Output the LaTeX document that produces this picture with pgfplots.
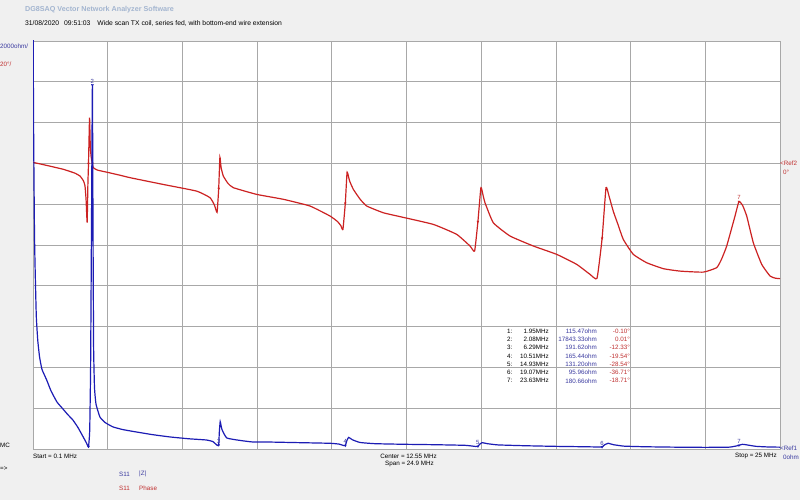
\documentclass[border=0pt]{standalone}
\usepackage{fontspec}
\setmainfont{Liberation Sans}
\usepackage{pgfplots}
\pgfplotsset{compat=1.18}
\definecolor{bgc}{HTML}{F0F0F0}
\definecolor{zc}{HTML}{1C1CB4}
\definecolor{pc}{HTML}{CC2222}
\definecolor{zt}{HTML}{3A3AA0}
\definecolor{pt}{HTML}{C03030}
\definecolor{tt}{HTML}{A3B5D0}
\definecolor{gc}{HTML}{A8A8A8}
\begin{document}
\begin{tikzpicture}[x=1bp,y=1bp,font=\fontsize{6.3}{7}\selectfont]
\useasboundingbox (0,0) rectangle (800,500);
\fill[bgc] (0,0) rectangle (800,500);
% phase axis with grid
\begin{axis}[at={(33bp,51bp)}, anchor=south west, width=747bp, height=408bp, scale only axis,
  xmin=0.1, xmax=25, ymin=-140, ymax=60,
  xtick={0.1,2.59,5.08,7.57,10.06,12.55,15.04,17.53,20.02,22.51,25},
  ytick={-140,-120,...,60},
  xticklabels={}, yticklabels={},
  grid=major, major grid style={gc, line width=0.8bp},
  major tick length=0pt, axis line style={gc, line width=0.8bp},
  axis background/.style={fill=white}]
\addplot[pc, line width=1.2bp, smooth, tension=0.25] table {
f P
0.10 0.5
0.5 -0.8
1.11 -2.9
1.50 -4.8
1.667 -6.2
1.78 -8.5
1.833 -11
1.87 -18
1.905 -29
1.93 -10
1.95 -0.1
1.985 22.4
2.01 8
2.04 3
2.08 0.01
2.11 -2.1
2.25 -3.3
2.557 -4.3
3.0 -5.8
3.333 -7
4.433 -10.3
5.557 -13.6
6.0 -16.8
6.15 -20.5
6.235 -24
6.29 -12.33
6.33 3
6.37 -2
6.443 -6.2
6.6 -9.8
6.777 -11.9
7.557 -15.2
8.443 -17.6
9.333 -20.9
10.0 -25.8
10.25 -28.5
10.36 -30.5
10.43 -32.4
10.51 -19.54
10.57 -4.3
10.65 -8.5
10.777 -12.7
11.0 -17.5
11.223 -20.9
11.777 -24.2
12.333 -26.1
13.443 -29.9
14.223 -34.8
14.667 -40.5
14.82 -43
14.93 -28.54
15.03 -11.9
15.1 -15.5
15.167 -19.3
15.443 -29.1
16.0 -35.6
16.777 -40.5
17.557 -44.6
18.223 -49.5
18.667 -54.4
18.9 -56.3
19.07 -36.71
19.2 -11.9
19.3 -16
19.443 -23.5
19.6 -30
19.777 -37.3
20.11 -44.6
20.557 -48.7
21.11 -51.6
21.667 -52.8
22.443 -53.3
22.89 -51.1
23.05 -47
23.223 -40.5
23.5 -25.8
23.63 -18.71
23.75 -20.5
23.89 -25.8
24.11 -38.9
24.39 -49.5
24.667 -55.2
24.85 -56.3
25.0 -56.5
};
\addplot[pc, only marks, mark=triangle*, mark options={rotate=180, scale=0.55},
  nodes near coords, point meta=explicit symbolic,
  every node near coord/.style={font=\fontsize{6}{6}\selectfont, text=pt, anchor=south, inner sep=1.5pt}]
  table[meta=lab] {
f P lab
1.95 -0.10 {}
2.08 0.01 {}
6.29 -12.33 {}
10.51 -19.54 {}
14.93 -28.54 {}
19.07 -36.71 {}
23.63 -18.71 7
};
\end{axis}
% impedance axis
\begin{axis}[at={(33bp,51bp)}, anchor=south west, width=747bp, height=408bp, scale only axis,
  xmin=0.1, xmax=25, ymin=0, ymax=20000, hide axis, clip=true]
\addplot[zc, line width=1.2bp, smooth, tension=0.25] table {
f Z
0.10 24000
0.115 17000
0.13 13800
0.15 10500
0.17 8900
0.21 6500
0.26 5300
0.32 4500
0.40 3900
0.557 3380
0.70 2850
0.90 2300
1.10 1960
1.25 1700
1.43 1420
1.60 1050
1.77 600
1.88 300
1.95 115
1.99 900
2.02 4000
2.05 11000
2.08 17843.33
2.10 11000
2.12 5000
2.15 3000
2.20 2200
2.33 1570
2.5 1300
2.77 1080
3.1 950
3.56 830
4.1 700
4.67 590
5.3 500
5.89 440
6.1 360
6.22 200
6.26 170
6.29 191.62
6.31 800
6.34 1340
6.40 950
6.56 540
7.0 420
7.43 343
8.0 340
9.0 310
10.0 280
10.3 240
10.45 170
10.51 165.44
10.56 400
10.62 570
10.75 450
11.0 320
11.5 260
12.5 230
13.5 210
14.5 180
14.85 125
14.93 131.20
15.0 250
15.07 310
15.25 260
15.6 200
16.5 160
17.5 130
18.5 110
19.0 96
19.07 95.96
19.15 200
19.27 280
19.45 210
19.8 140
20.5 110
21.5 90
22.5 80
23.3 90
23.55 150
23.63 180.66
23.75 230
23.9 200
24.2 130
24.6 100
25.0 90
};
\addplot[zc, only marks, mark=triangle, mark options={rotate=180, scale=0.6},
  nodes near coords, point meta=explicit symbolic,
  every node near coord/.style={font=\fontsize{6}{6}\selectfont, text=zt, anchor=south, inner sep=1.5pt}]
  table[meta=lab] {
f Z lab
1.95 115.47 {}
2.08 17843.33 2
6.29 191.62 3
10.51 165.44 4
14.93 131.20 5
19.07 95.96 6
23.63 180.66 7
};
\end{axis}
% header texts
\node[anchor=west, inner sep=0pt, text=tt, font=\fontsize{7.2}{8}\selectfont\bfseries] at (25,490) {DG8SAQ Vector Network Analyzer Software};
\node[anchor=west, inner sep=0pt, font=\fontsize{6.8}{8}\selectfont] at (25,477) {31/08/2020\hspace{5bp}09:51:03\hspace{7bp}Wide scan TX coil, series fed, with bottom-end wire extension};
\node[anchor=west, text=zt, inner sep=0pt] at (0,454) {2000ohm/};
\node[anchor=west, text=pt, inner sep=0pt] at (0,436) {20°/};
\node[anchor=west, inner sep=0pt] at (0,55) {MC};
\node[anchor=west, inner sep=0pt] at (0,31) {=>};
\node[anchor=west, inner sep=0pt] at (33,44) {Start = 0.1 MHz};
\node[anchor=east, inner sep=0pt] at (437,44) {Center = 12.55 MHz};
\node[anchor=east, inner sep=0pt] at (434,36) {Span = 24.9 MHz};
\node[anchor=east, inner sep=0pt] at (777,44) {Stop = 25 MHz};
\node[anchor=west, text=zt, inner sep=0pt] at (780,52) {<Ref1};
\node[anchor=west, text=zt, inner sep=0pt] at (783,43) {0ohm};
\node[anchor=west, text=pt, inner sep=0pt] at (780,337) {<Ref2};
\node[anchor=west, text=pt, inner sep=0pt] at (783,328) {0°};
% legend
\node[anchor=west, text=zt, inner sep=0pt] at (119,26) {S11};
\node[anchor=west, text=zt, inner sep=0pt] at (139,26) {|Z|};
\node[anchor=west, text=pt, inner sep=0pt] at (119,12) {S11};
\node[anchor=west, text=pt, inner sep=0pt] at (139,12) {Phase};
% marker table
\foreach \i/\fr/\z/\ph [count=\k from 0] in {1/1.95/115.47/-0.10, 2/2.08/17843.33/0.01, 3/6.29/191.62/-12.33, 4/10.51/165.44/-19.54, 5/14.93/131.20/-28.54, 6/19.07/95.96/-36.71, 7/23.63/180.66/-18.71}{
  \pgfmathsetmacro{\yy}{169-8.3*\k}
  \node[anchor=west, inner sep=0pt] at (507,\yy) {\i:};
  \node[anchor=east, inner sep=0pt] at (549,\yy) {\fr MHz};
  \node[anchor=east, text=zt, inner sep=0pt] at (597,\yy) {\z ohm};
  \node[anchor=east, text=pt, inner sep=0pt] at (630,\yy) {\ph°};
}
\end{tikzpicture}
\end{document}
